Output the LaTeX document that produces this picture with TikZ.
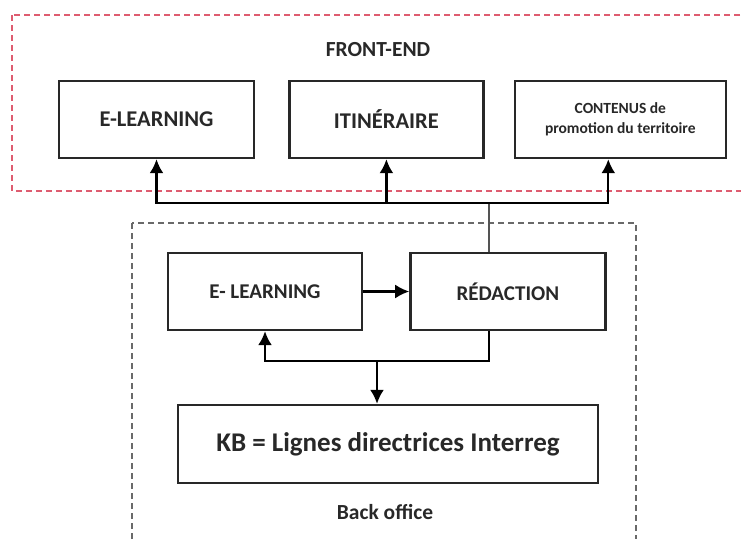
\documentclass[tikz,border=0pt]{standalone}
\usepackage{fontspec}
\setmainfont{Carlito}
\usetikzlibrary{arrows.meta,positioning}
\definecolor{frontred}{RGB}{222,92,112}
\definecolor{backgray}{RGB}{105,105,105}
\definecolor{boxgray}{RGB}{40,40,40}

\begin{document}
\begin{tikzpicture}[x=1pt,y=-1pt,>={Latex[length=14pt,width=14pt]},
   box/.style={draw=boxgray,line width=2.4pt,minimum height=77pt,inner sep=0pt,
      align=center,text=boxgray,font=\bfseries\fontsize{21}{24}\selectfont},
   zone/.style={line width=1.8pt,dash pattern=on 6pt off 4pt},
   title/.style={text=boxgray,font=\bfseries\fontsize{21.5}{24}\selectfont},
   link/.style={draw=black,line width=2.2pt}]
   \useasboundingbox (0,0) rectangle (741,538);
   % zones
   \draw[zone,draw=frontred] (12,15) rectangle (770,191);
   \draw[zone,draw=backgray] (132,223) rectangle (636,570);
   \node[title] (front) at (378,50) {FRONT-END};
   \node[title] (back) at (385,512) {Back office};
   % front-end
   \node[box,minimum width=195pt,font=\bfseries\fontsize{22.5}{24}\selectfont] (fe1) at (156.5,119.5) {E-LEARNING};
   \node[box,minimum width=194pt,right=33pt of fe1,font=\bfseries\fontsize{22.5}{24}\selectfont] (fe2) {ITINÉRAIRE};
   \node[box,minimum width=211pt,right=29pt of fe2,
      font=\bfseries\fontsize{15.5}{20}\selectfont] (fe3) {CONTENUS de\\promotion du territoire};
   % back office
   \node[box,minimum width=194pt] (be1) at (265,291.5) {E- LEARNING};
   \node[box,minimum width=195pt,right=46pt of be1] (red) {RÉDACTION};
   \node[box,minimum width=420pt,minimum height=78pt,
      font=\bfseries\fontsize{27}{30}\selectfont] (kb) at (388,444) {KB = Lignes directrices Interreg};
   \coordinate (hub) at (489,203);
   \coordinate (fork) at (377,361);
   % links
   \draw[link,line width=1.5pt,draw=backgray!80!black] (hub |- red.north) -- (hub);
   \draw[link,->] (hub) -| (fe1.south);
   \draw[link,->] (hub) -| ([xshift=-12pt]fe3.south);
   \draw[link,->] (hub -| fe2.south) -- (fe2.south);
   \draw[link,->] (be1) -- (red);
   \draw[link,->] (hub |- red.south) |- (fork) -| (be1.south);
   \draw[link,->] (fork) -- (fork |- kb.north);
\end{tikzpicture}
\end{document}
